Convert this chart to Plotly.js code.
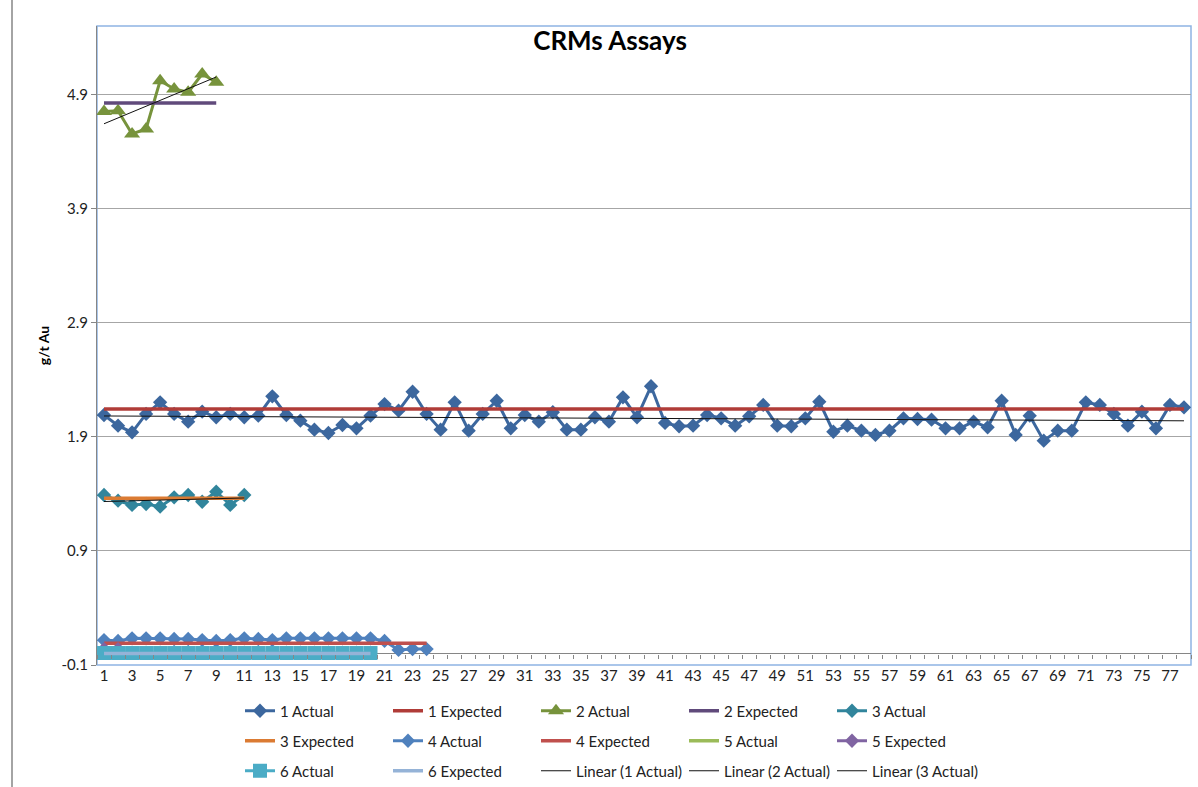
<!DOCTYPE html>
<html>
<head>
<meta charset="utf-8">
<script src="https://cdn.plot.ly/plotly-3.0.1.min.js"></script>
<style>
html, body { margin: 0; padding: 0; background: #fff; }
#chart { width: 1198px; height: 787px; }
</style>
</head>
<body>
<div id="chart"></div>
<script>
// values (g/t Au)
const actual1 = [2.093, 1.999, 1.941, 2.102, 2.204, 2.102, 2.034, 2.122, 2.073, 2.102,
    2.073, 2.087, 2.257, 2.093, 2.043, 1.964, 1.935, 2.005, 1.976, 2.087,
    2.189, 2.131, 2.297, 2.102, 1.964, 2.204, 1.955, 2.102, 2.218, 1.976,
    2.093, 2.034, 2.117, 1.964, 1.964, 2.073, 2.034, 2.248, 2.073, 2.345,
    2.023, 1.994, 1.999, 2.093, 2.064, 1.999, 2.082, 2.181, 1.999, 1.994,
    2.064, 2.210, 1.946, 1.999, 1.955, 1.918, 1.955, 2.064, 2.058, 2.052,
    1.976, 1.976, 2.034, 1.985, 2.218, 1.918, 2.087, 1.868, 1.955, 1.955,
    2.204, 2.181, 2.102, 1.999, 2.122, 1.976, 2.181, 2.160];
const expected1 = 2.146;

const actual2 = [4.754, 4.762, 4.558, 4.602, 5.025, 4.953, 4.924, 5.084, 5.011];
const expected2 = 4.83;

const actual3 = [1.391, 1.341, 1.304, 1.312, 1.289, 1.371, 1.391, 1.332, 1.420, 1.304, 1.391];
const expected3 = 1.362;

const actual4 = [0.119, 0.111, 0.134, 0.134, 0.134, 0.128, 0.128, 0.119, 0.111, 0.119,
    0.134, 0.128, 0.119, 0.134, 0.134, 0.134, 0.134, 0.134, 0.134, 0.134,
    0.111, 0.032, 0.040, 0.040];
const expected4 = 0.09;

const actual5 = [0.05, 0.05];
const expected5 = [0.04, 0.04];

const actual6 = [0.005, 0.005, 0.005, 0.005, 0.005, 0.005, 0.005, 0.005, 0.005, 0.005,
    0.005, 0.005, 0.005, 0.005, 0.005, 0.005, 0.005, 0.005, 0.005, 0.005];
const expected6 = 0.0;

const yTickVals = [-0.1, 0.9, 1.9, 2.9, 3.9, 4.9];
const yTickText = ['-0.1', '0.9', '1.9', '2.9', '3.9', '4.9'];

const FONT = 'Lato, "Open Sans", sans-serif';

const idx = arr => arr.map((_, i) => i + 1);
const xTickVals = idx(actual1).filter(n => n % 2 === 1);

// least squares line, drawn between first and last point
function trend(ys) {
    const xs = idx(ys);
    const n = ys.length;
    const mx = xs.reduce((a, b) => a + b, 0) / n;
    const my = ys.reduce((a, b) => a + b, 0) / n;
    let sxy = 0, sxx = 0;
    xs.forEach((x, i) => { sxy += (x - mx) * (ys[i] - my); sxx += (x - mx) * (x - mx); });
    const slope = sxy / sxx;
    const icpt = my - slope * mx;
    return { x: [1, n], y: [icpt + slope, icpt + slope * n] };
}

function flat(n, v) { return { x: [1, n], y: [v, v] }; }

const data = [
    { x: idx(actual1), y: actual1, name: '1 Actual', mode: 'lines+markers', legend: 'legend',
      line: { color: '#3C679E', width: 3 }, marker: { symbol: 'diamond', size: 11, color: '#3C679E' } },
    { ...flat(78, expected1), name: '1 Expected', mode: 'lines', legend: 'legend',
      line: { color: '#B03C38', width: 3.5 } },
    { x: idx(actual2), y: actual2, name: '2 Actual', mode: 'lines+markers', legend: 'legend',
      line: { color: '#77933C', width: 3 }, marker: { symbol: 'triangle-up', size: 14, color: '#77933C' } },
    { ...flat(9, expected2), name: '2 Expected', mode: 'lines', legend: 'legend',
      line: { color: '#604A7B', width: 3.5 } },
    { x: idx(actual3), y: actual3, name: '3 Actual', mode: 'lines+markers', legend: 'legend',
      line: { color: '#31859C', width: 3 }, marker: { symbol: 'diamond', size: 11, color: '#31859C' } },

    { ...flat(11, expected3), name: '3 Expected', mode: 'lines', legend: 'legend2',
      line: { color: '#DB7B33', width: 3.5 } },
    { x: idx(actual4), y: actual4, name: '4 Actual', mode: 'lines+markers', legend: 'legend2',
      line: { color: '#4F81BD', width: 3 }, marker: { symbol: 'diamond', size: 11, color: '#4F81BD' } },
    { ...flat(24, expected4), name: '4 Expected', mode: 'lines', legend: 'legend2',
      line: { color: '#C0504D', width: 3.5 } },
    { x: idx(actual5), y: actual5, name: '5 Actual', mode: 'lines', legend: 'legend2',
      line: { color: '#9BBB59', width: 3.5 } },
    { x: idx(expected5), y: expected5, name: '5 Expected', mode: 'lines+markers', legend: 'legend2',
      line: { color: '#8064A2', width: 3 }, marker: { symbol: 'diamond', size: 11, color: '#8064A2' } },

    { x: idx(actual6), y: actual6, name: '6 Actual', mode: 'lines+markers', legend: 'legend3',
      line: { color: '#4BACC6', width: 3 }, marker: { symbol: 'square', size: 14, color: '#4BACC6' } },
    { ...flat(20, expected6), name: '6 Expected', mode: 'lines', legend: 'legend3',
      line: { color: '#95B3D7', width: 3.5 } },
    { ...trend(actual1), name: 'Linear (1 Actual)', mode: 'lines', legend: 'legend3', xaxis: 'x2',
      line: { color: '#111', width: 1 } },
    { ...trend(actual2), name: 'Linear (2 Actual)', mode: 'lines', legend: 'legend3', xaxis: 'x2',
      line: { color: '#111', width: 1 } },
    { ...trend(actual3), name: 'Linear (3 Actual)', mode: 'lines', legend: 'legend3', xaxis: 'x2',
      line: { color: '#111', width: 1 } }
];

const yMin = -0.1, yMax = 5.505;

function legendRow(yPx) {
    return {
        orientation: 'h', xref: 'container', yref: 'container',
        x: 240 / 1198, y: 1 - yPx / 787, xanchor: 'left', yanchor: 'middle',
        entrywidth: 103, entrywidthmode: 'pixels', traceorder: 'normal',
        font: { family: FONT, size: 15, color: '#222' }, bgcolor: 'rgba(0,0,0,0)'
    };
}

const layout = {
    width: 1198, height: 787,
    margin: { l: 97, r: 7, t: 26, b: 122 },
    paper_bgcolor: '#fff', plot_bgcolor: '#fff',
    font: { family: FONT, size: 15, color: '#222' },
    title: {
        text: '<b>CRMs Assays</b>', xref: 'container', yref: 'container',
        x: 610 / 1198, y: 1 - 41 / 787, xanchor: 'center', yanchor: 'middle',
        font: { family: FONT, size: 26, color: '#000' }
    },
    xaxis: {
        range: [0.5, 78.5], tickmode: 'array', tickvals: xTickVals, ticktext: xTickVals.map(String),
        showgrid: false, showline: false, zeroline: false, ticks: '',
        tickfont: { family: FONT, size: 15, color: '#222' }
    },
    xaxis2: {
        overlaying: 'x', anchor: 'free', position: (0 - yMin) / (yMax - yMin),
        range: [0.5, 78.5], tickmode: 'linear', tick0: 0.5, dtick: 1,
        ticks: 'outside', ticklen: 4, tickcolor: '#868686', showticklabels: false,
        showgrid: false, showline: false, zeroline: false
    },
    yaxis: {
        range: [yMin, yMax], tickmode: 'array', tickvals: yTickVals, ticktext: yTickText,
        showgrid: true, gridcolor: '#A6A6A6', gridwidth: 1,
        zeroline: true, zerolinecolor: '#868686', zerolinewidth: 1,
        showline: true, linecolor: '#868686', linewidth: 1,
        ticks: 'outside', ticklen: 5, tickcolor: '#868686',
        tickfont: { family: FONT, size: 15, color: '#222' },
        title: { text: '<b>g/t Au</b>', standoff: 8, font: { family: FONT, size: 14, color: '#000' } }
    },
    legend: legendRow(711),
    legend2: legendRow(741),
    legend3: legendRow(771),
    shapes: [
        { type: 'rect', xref: 'paper', yref: 'paper', x0: 0, x1: 1, y0: 0, y1: 1,
          line: { color: '#8EB4E3', width: 1.5 }, layer: 'below' },
        { type: 'line', xref: 'paper', yref: 'paper', x0: (12 - 97) / 1094, x1: (12 - 97) / 1094,
          y0: (665 - 787) / 639, y1: 665 / 639, line: { color: '#868686', width: 1.5 } }
    ],
    showlegend: true
};

Plotly.newPlot('chart', data, layout, { displayModeBar: false, staticPlot: true });
</script>
</body>
</html>
